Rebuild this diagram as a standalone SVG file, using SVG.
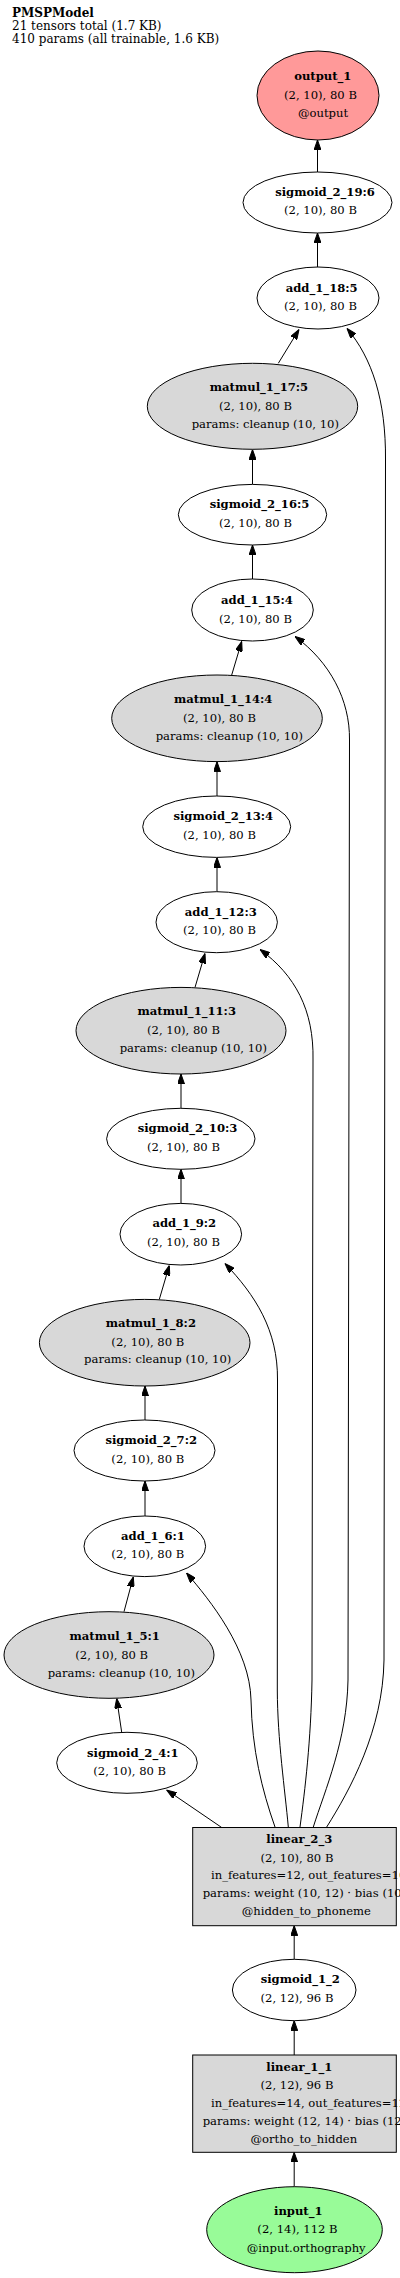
<svg xmlns="http://www.w3.org/2000/svg" width="400" height="2278" viewBox="0 0 400 2278">
<style>
text{font-family:"DejaVu Serif","Liberation Serif",serif;font-size:11.6px;fill:#000}
.b{font-weight:bold;text-anchor:middle}
.t{text-anchor:middle}
.s{text-anchor:start}
.h{font-size:12px}
.node ellipse,.node rect{stroke:#000;stroke-width:1}
.w{fill:#fff}
.g{fill:#d8d8d8}
.e path{fill:none;stroke:#000;stroke-width:1;marker-end:url(#arr)}
</style>
<defs>
<marker id="arr" markerWidth="10" markerHeight="7" refX="10" refY="3.5" orient="auto" markerUnits="userSpaceOnUse">
<path d="M0,0 L10,3.5 L0,7 z" fill="#000" stroke="#000" stroke-width="1"/>
</marker>
</defs>
<rect width="400" height="2278" fill="#fff"/>
<g id="header">
<text class="h" x="12" y="17" font-weight="bold">PMSPModel</text>
<text class="h" x="12" y="29.5">21 tensors total (1.7 KB)</text>
<text class="h" x="12" y="42.5">410 params (all trainable, 1.6 KB)</text>
</g>
<g id="edges" class="e">
<path d="M317.5,172 L317.5,140"/>
<path d="M317.5,267 L317.5,233"/>
<path d="M278.3,363.3 L299,329.5"/>
<path d="M252.5,484.4 L252.5,449.5"/>
<path d="M252.5,579.3 L252.5,545"/>
<path d="M231.7,675 L241.7,641.5"/>
<path d="M217,796 L217,761.7"/>
<path d="M217,891.7 L217,857.5"/>
<path d="M195,987.4 L205,953.5"/>
<path d="M181,1108.3 L181,1074"/>
<path d="M181,1203.4 L181,1169.3"/>
<path d="M159.3,1299.4 L169.3,1265.5"/>
<path d="M145,1420 L145,1386"/>
<path d="M145,1516 L145,1481"/>
<path d="M124,1611.7 L133.3,1577"/>
<path d="M121.7,1732.3 L116.7,1698.5"/>
<path d="M221.7,1827.5 L166.7,1790"/>
<path d="M294.2,1959.3 L294.2,1925.7"/>
<path d="M294.2,2055 L294.2,2020.7"/>
<path d="M294.2,2186.7 L294.2,2152.3"/>
<path d="M326.7,1827 C350,1790 383,1730 384,1660 L385.5,460 C386,400 372,358 347,328.5"/>
<path d="M313.3,1827 C325,1790 347,1740 348,1680 L349.5,740 C350,700 330,662 295,636.5"/>
<path d="M300,1827 C305,1790 311,1740 312,1680 L313,1060 C314,1010 295,975 260,949.5"/>
<path d="M288.3,1827 C285,1790 277.5,1740 277.3,1690 L277.5,1380 C278,1330 255,1295 225,1263.5"/>
<path d="M275,1827 C262,1790 252,1750 251,1700 C250,1650 210,1600 186.5,1573"/>
</g>
<g id="output_1" class="node">
<ellipse cx="318" cy="95.5" rx="61" ry="44.5" fill="#ff9999"/>
<text class="b" x="322.8" y="80">output_1</text>
<text class="t" x="320.5" y="98.5">(2, 10), 80 B</text>
<text class="t" x="323" y="116.5">@output</text>
</g>
<g id="sigmoid_2_19_6" class="node">
<ellipse class="w" cx="317.5" cy="202.5" rx="74.5" ry="30.5"/>
<text class="b" x="325" y="196">sigmoid_2_19:6</text>
<text class="t" x="320.5" y="214">(2, 10), 80 B</text>
</g>
<g id="add_1_18_5" class="node">
<ellipse class="w" cx="318" cy="298" rx="61" ry="31"/>
<text class="b" x="321.7" y="291.7">add_1_18:5</text>
<text class="t" x="320.5" y="310">(2, 10), 80 B</text>
</g>
<g id="matmul_1_17_5" class="node">
<ellipse class="g" cx="252.5" cy="406.3" rx="105.2" ry="43"/>
<text class="b" x="259" y="390.7">matmul_1_17:5</text>
<text class="t" x="255.5" y="409.5">(2, 10), 80 B</text>
<text class="t" x="265.3" y="427.7">params: cleanup (10, 10)</text>
</g>
<g id="sigmoid_2_16_5" class="node">
<ellipse class="w" cx="252.5" cy="514.7" rx="74.2" ry="30.3"/>
<text class="b" x="259.5" y="508.3">sigmoid_2_16:5</text>
<text class="t" x="255.5" y="526.7">(2, 10), 80 B</text>
</g>
<g id="add_1_15_4" class="node">
<ellipse class="w" cx="252.5" cy="610" rx="60.8" ry="31"/>
<text class="b" x="257" y="604">add_1_15:4</text>
<text class="t" x="255.5" y="622.7">(2, 10), 80 B</text>
</g>
<g id="matmul_1_14_4" class="node">
<ellipse class="g" cx="217" cy="718.3" rx="105.3" ry="43.3"/>
<text class="b" x="223.2" y="703.3">matmul_1_14:4</text>
<text class="t" x="219.5" y="722">(2, 10), 80 B</text>
<text class="t" x="229.3" y="740">params: cleanup (10, 10)</text>
</g>
<g id="sigmoid_2_13_4" class="node">
<ellipse class="w" cx="216.7" cy="826.7" rx="74" ry="30.7"/>
<text class="b" x="223.3" y="820">sigmoid_2_13:4</text>
<text class="t" x="219.5" y="839">(2, 10), 80 B</text>
</g>
<g id="add_1_12_3" class="node">
<ellipse class="w" cx="216.7" cy="922.2" rx="60.7" ry="30.5"/>
<text class="b" x="220.8" y="915.7">add_1_12:3</text>
<text class="t" x="219.5" y="934.3">(2, 10), 80 B</text>
</g>
<g id="matmul_1_11_3" class="node">
<ellipse class="g" cx="181" cy="1030.7" rx="105" ry="43.3"/>
<text class="b" x="186.8" y="1015">matmul_1_11:3</text>
<text class="t" x="183.5" y="1034">(2, 10), 80 B</text>
<text class="t" x="193.3" y="1051.7">params: cleanup (10, 10)</text>
</g>
<g id="sigmoid_2_10_3" class="node">
<ellipse class="w" cx="180.8" cy="1138.8" rx="74.2" ry="30.5"/>
<text class="b" x="187.5" y="1132.3">sigmoid_2_10:3</text>
<text class="t" x="183.5" y="1150.7">(2, 10), 80 B</text>
</g>
<g id="add_1_9_2" class="node">
<ellipse class="w" cx="180.8" cy="1234.2" rx="60.8" ry="30.8"/>
<text class="b" x="184.3" y="1227.3">add_1_9:2</text>
<text class="t" x="183.5" y="1246">(2, 10), 80 B</text>
</g>
<g id="matmul_1_8_2" class="node">
<ellipse class="g" cx="144.7" cy="1342.7" rx="105.3" ry="43.3"/>
<text class="b" x="150.8" y="1326.7">matmul_1_8:2</text>
<text class="t" x="147.8" y="1345.7">(2, 10), 80 B</text>
<text class="t" x="157.7" y="1363.3">params: cleanup (10, 10)</text>
</g>
<g id="sigmoid_2_7_2" class="node">
<ellipse class="w" cx="144.5" cy="1450.5" rx="70.5" ry="30.5"/>
<text class="b" x="151.2" y="1444">sigmoid_2_7:2</text>
<text class="t" x="147.8" y="1462.7">(2, 10), 80 B</text>
</g>
<g id="add_1_6_1" class="node">
<ellipse class="w" cx="144.8" cy="1546.3" rx="60.8" ry="30.3"/>
<text class="b" x="153" y="1540">add_1_6:1</text>
<text class="t" x="147.8" y="1558.3">(2, 10), 80 B</text>
</g>
<g id="matmul_1_5_1" class="node">
<ellipse class="g" cx="109" cy="1655" rx="105" ry="43.3"/>
<text class="b" x="114.7" y="1640">matmul_1_5:1</text>
<text class="t" x="111.7" y="1659">(2, 10), 80 B</text>
<text class="t" x="121.3" y="1676.7">params: cleanup (10, 10)</text>
</g>
<g id="sigmoid_2_4_1" class="node">
<ellipse class="w" cx="127" cy="1762.8" rx="70.3" ry="30.5"/>
<text class="b" x="132.8" y="1756.7">sigmoid_2_4:1</text>
<text class="t" x="129.7" y="1775">(2, 10), 80 B</text>
</g>
<g id="linear_2_3" class="node">
<rect class="g" x="192.7" y="1827.5" width="203.6" height="98.2"/>
<text class="b" x="299.3" y="1843.3">linear_2_3</text>
<text class="t" x="297" y="1861.7">(2, 10), 80 B</text>
<text class="s" x="211" y="1879.3">in_features=12, out_features=10</text>
<text class="s" x="202.7" y="1897.3">params: weight (10, 12) · bias (10,)</text>
<text class="t" x="306.3" y="1915">@hidden_to_phoneme</text>
</g>
<g id="sigmoid_1_2" class="node">
<ellipse class="w" cx="294.2" cy="1990" rx="61.8" ry="30.7"/>
<text class="b" x="300.3" y="1983.3">sigmoid_1_2</text>
<text class="t" x="297" y="2002.3">(2, 12), 96 B</text>
</g>
<g id="linear_1_1" class="node">
<rect class="g" x="192.7" y="2055" width="203.6" height="97.3"/>
<text class="b" x="299.3" y="2070.7">linear_1_1</text>
<text class="t" x="297" y="2089">(2, 12), 96 B</text>
<text class="s" x="211" y="2106.7">in_features=14, out_features=12</text>
<text class="s" x="202.7" y="2125">params: weight (12, 14) · bias (12,)</text>
<text class="t" x="303.8" y="2142.7">@ortho_to_hidden</text>
</g>
<g id="input_1" class="node">
<ellipse cx="294.5" cy="2229.7" rx="87.8" ry="43" fill="#98fb98"/>
<text class="b" x="298.3" y="2215">input_1</text>
<text class="t" x="297.5" y="2233.3">(2, 14), 112 B</text>
<text class="t" x="306.2" y="2251.7">@input.orthography</text>
</g>
</svg>
